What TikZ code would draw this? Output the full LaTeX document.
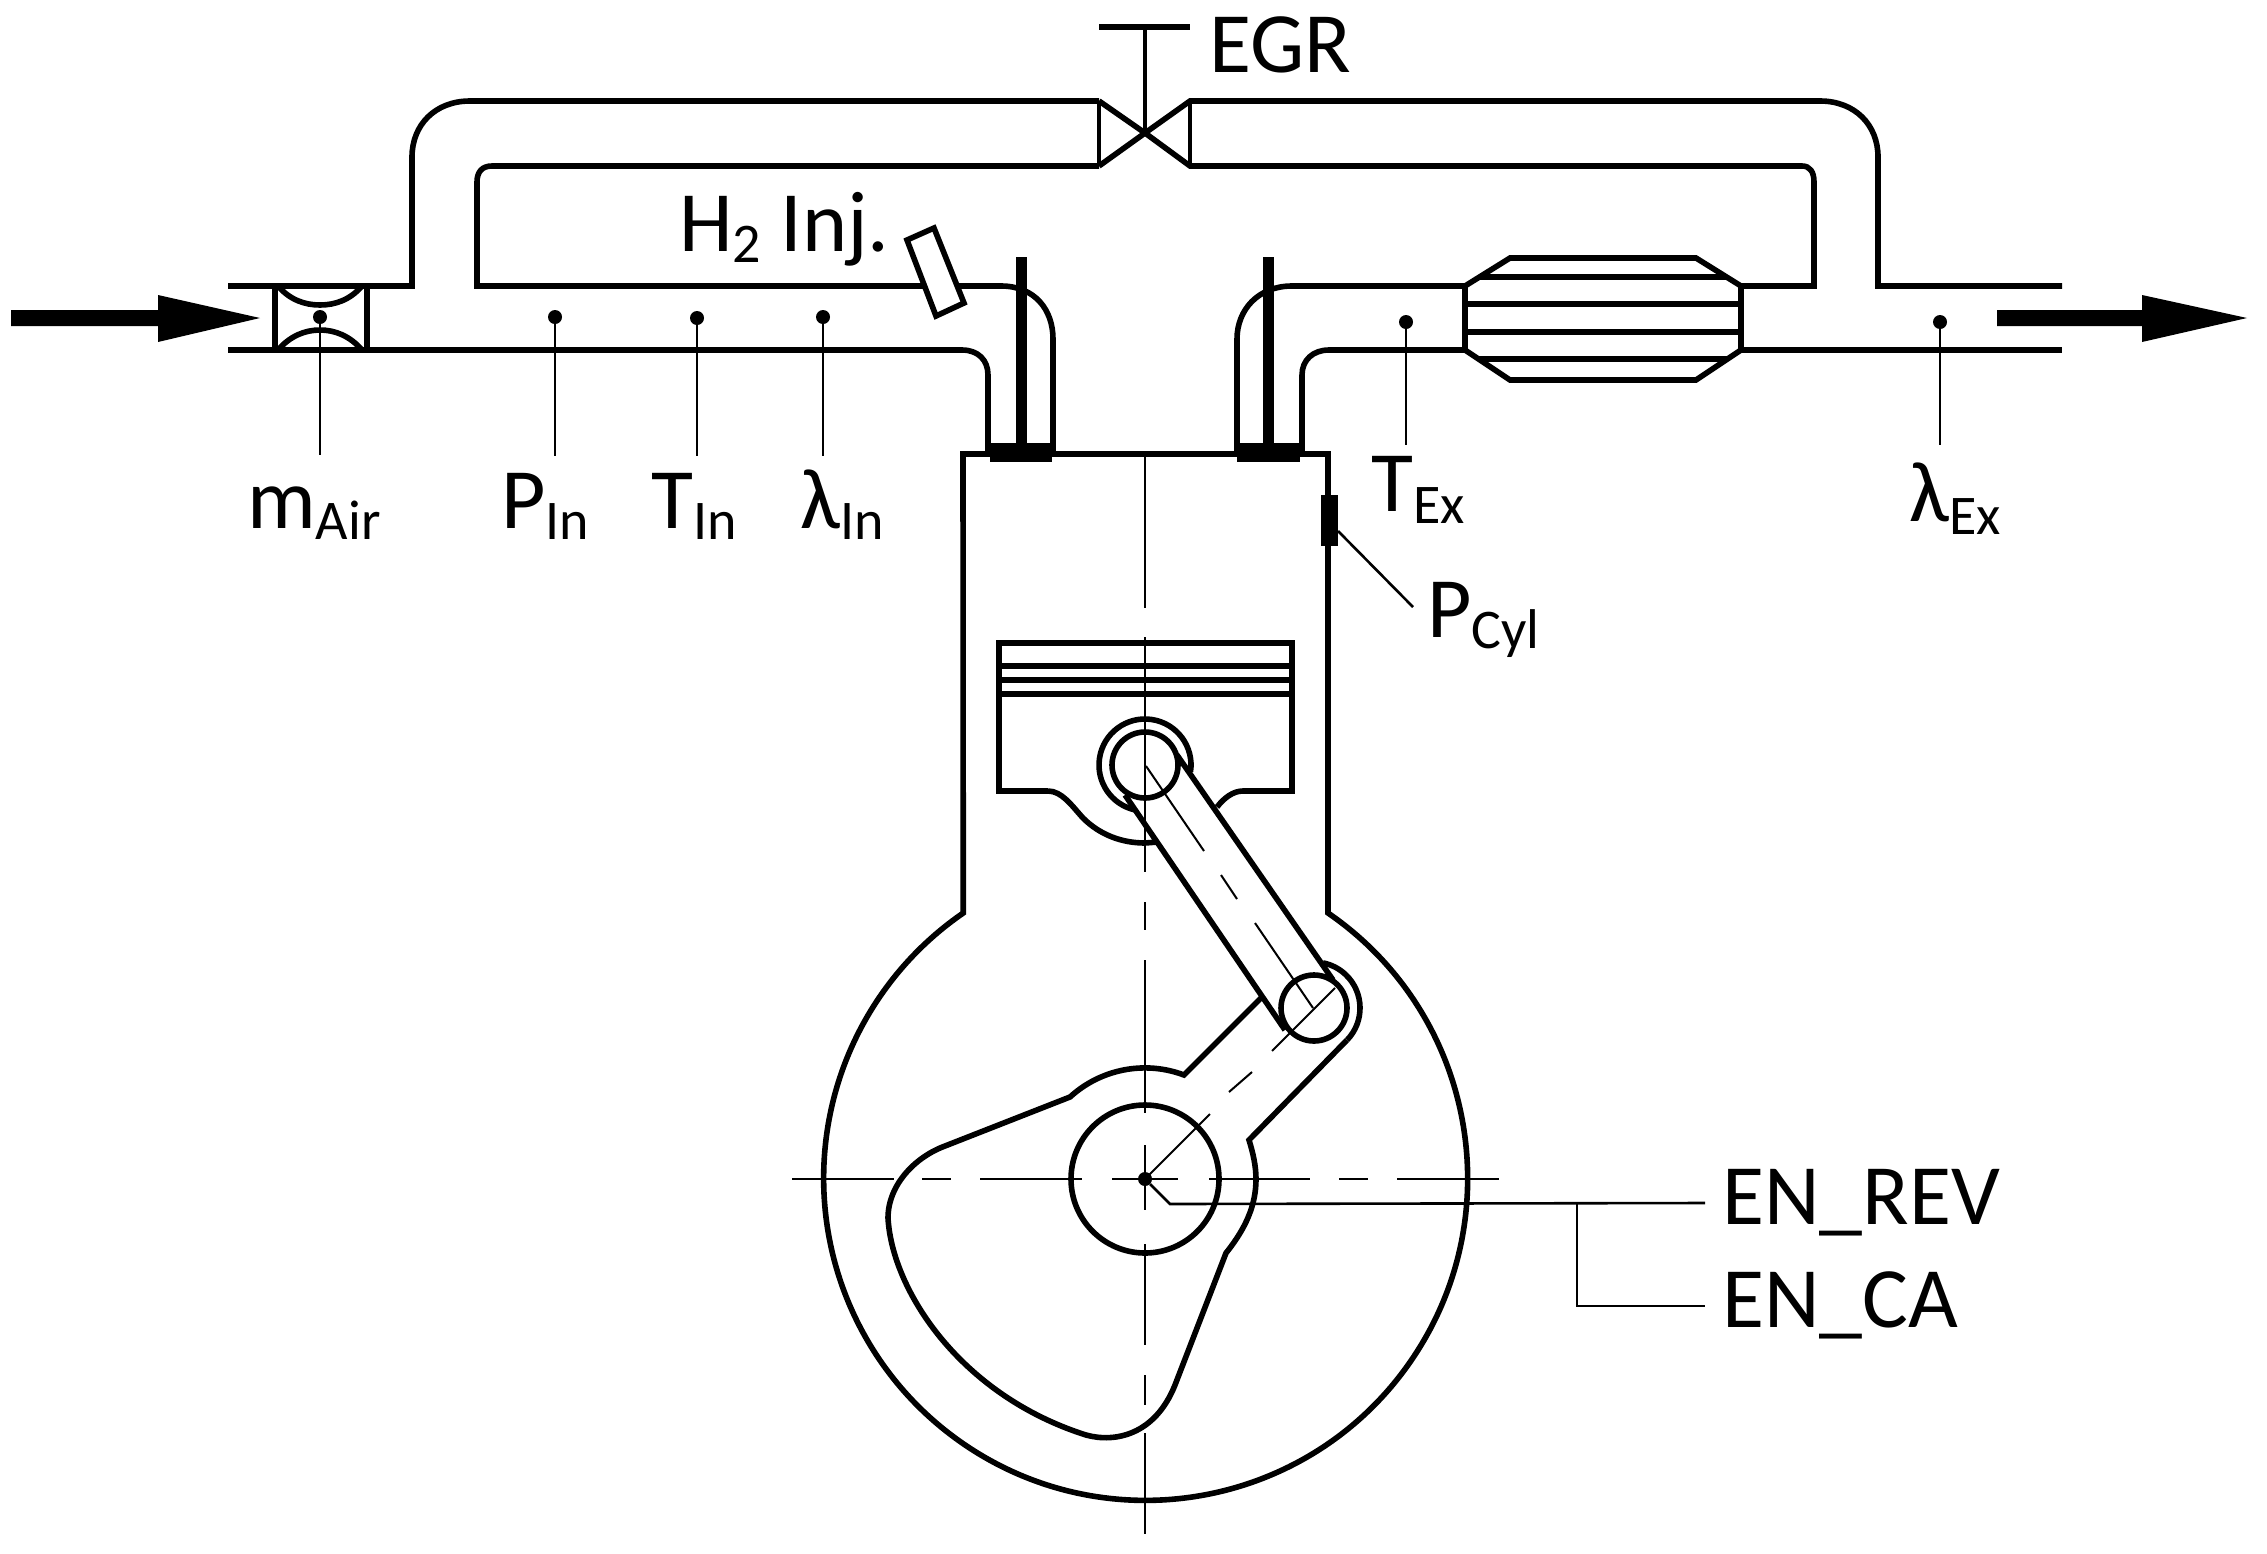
\documentclass[tikz,border=0pt]{standalone}
\usepackage{fontspec}
\setmainfont{Carlito}
\newcommand\labsub[2][-11pt]{\raisebox{#1}{\fontsize{56}{56}\selectfont #2}}
\tikzset{
  pipe/.style={line width=5.6pt,line cap=butt,line join=miter},
  thinpipe/.style={line width=3.6pt},
  leader/.style={line width=2.6pt},
  center line/.style={line width=2pt},
  probe/.style={circle,fill=black,inner sep=0pt,minimum size=14pt},
  lab/.style={inner sep=0pt,anchor=base west,font=\fontsize{86}{86}\selectfont},
}
\begin{document}
\begin{tikzpicture}[x=1pt,y=1pt,yscale=-1]
\useasboundingbox (0,0) rectangle (2267,1553);
% flow arrows
\fill (11,310) -- (158,310) -- (158,295) -- (260,318) -- (158,342) -- (158,326) -- (11,326) -- cycle;
\fill (1997,310) -- (2142,310) -- (2142,295) -- (2247,318) -- (2142,342) -- (2142,326) -- (1997,326) -- cycle;
% intake pipe
\draw[pipe] (228,286) -- (412,286) -- (412,157) .. controls (412,125) and (435,101) .. (470,101) -- (1099,101);
\draw[pipe] (1099,166) -- (492,166) .. controls (482,166) and (477,172) .. (477,182) -- (477,286) -- (1001,286) .. controls (1035,286) and (1053,310) .. (1053,339) -- (1053,453);
\draw[pipe] (228,350) -- (962,350) .. controls (978,350) and (988,360) .. (988,375) -- (988,453);
% flow meter
\draw[pipe] (275,286) -- (275,350);
\draw[pipe] (367,286) -- (367,350);
\draw[pipe] (278,286) .. controls (290,300) and (305,305) .. (320,305) .. controls (335,305) and (350,300) .. (362,286);
\draw[pipe] (278,350) .. controls (290,336) and (305,330) .. (320,330) .. controls (335,330) and (350,336) .. (362,350);
% EGR valve
\draw[pipe] (1099,101) -- (1145,133) ;
\draw[pipe] (1145,133) -- (1190,101) -- (1820,101) .. controls (1855,101) and (1878,125) .. (1878,157) -- (1878,286) -- (2062,286);
\draw[pipe] (1099,166) -- (1145,133) -- (1190,166) -- (1802,166) .. controls (1810,166) and (1814,172) .. (1814,182) -- (1814,286) -- (1741,286);
\draw[thinpipe] (1099,101) -- (1099,166);
\draw[thinpipe] (1190,101) -- (1190,166);
\draw[thinpipe] (1145,27) -- (1145,133);
\draw[pipe] (1099,27) -- (1190,27);
% exhaust pipe
\draw[pipe] (1465,286) -- (1292,286) .. controls (1258,286) and (1237,310) .. (1237,339) -- (1237,453);
\draw[pipe] (1465,350) -- (1329,350) .. controls (1313,350) and (1302,360) .. (1302,375) -- (1302,453);
\draw[pipe] (1741,350) -- (2062,350);
% catalyst
\draw[pipe] (1465,286) -- (1510,258) -- (1696,258) -- (1741,286) -- (1741,350) -- (1696,380) -- (1510,380) -- (1465,350) -- cycle;
\draw[pipe] (1479,277) -- (1726,277);
\draw[pipe] (1465,304) -- (1741,304);
\draw[pipe] (1465,332) -- (1741,332);
\draw[pipe] (1479,359) -- (1727,359);
% injector
\draw[pipe,fill=white] (907,240) -- (934,228) -- (964,303) -- (936,316) -- cycle;
% valves
\draw[line width=11pt] (1021.5,257) -- (1021.5,450);
\draw[line width=11pt] (1268,257) -- (1268,450);
\fill (990,443) rectangle (1052,462);
\fill (1237,443) rectangle (1300,462);
% cylinder and crankcase
\draw[pipe] (1328,454) -- (1328,913) arc[start angle=-55.5,end angle=235.5,radius=322] -- (963,454) -- cycle;
\fill (1321,495) rectangle (1338,546);
% piston
\draw[pipe] (1048,791) -- (999,791) -- (999,643) -- (1292,643) -- (1292,791) -- (1243,791) .. controls (1233,791) and (1224,798) .. (1217,807);
\draw[pipe] (999,666) -- (1292,666);
\draw[pipe] (999,680) -- (1292,680);
\draw[pipe] (999,694) -- (1292,694);
\draw[pipe] (1048,791) .. controls (1062,791) and (1072,806) .. (1083,818) .. controls (1100,835) and (1122,843) .. (1145,843) -- (1158,842);
% connecting rod
\draw[pipe] (1145,765) circle[radius=33];
\draw[pipe] (1314,1008) circle[radius=33];
\draw[pipe] (1145,765) ++(8.5:46) arc[start angle=8.5,end angle=-257.5,radius=46];
\draw[pipe] (1125,795) -- (1285,1030);
\draw[pipe] (1177,755) -- (1333,980);
% crank
\draw[pipe] (1145,1179) circle[radius=74];
\draw[pipe] (1263,996) -- (1184,1075) arc[start angle=-69.4,end angle=-132.4,radius=111] -- (945,1146)
  .. controls (915,1157) and (888,1185) .. (888,1218)
  .. controls (892,1290) and (960,1395) .. (1086,1435)
  .. controls (1115,1443) and (1155,1435) .. (1175,1385) -- (1226,1253)
  .. controls (1246,1228) and (1256,1205) .. (1256,1179) .. controls (1256,1166) and (1253,1153) .. (1249,1140) -- (1347,1040);
\draw[pipe] (1314,1008) ++(44:46) arc[start angle=44,end angle=-78.7,radius=46];
% centre lines
\foreach \a/\b in {454/608,637/872,902/930,960/1113,1145/1210,1244/1345,1375/1405,1433/1534}
  \draw[center line] (1145,\a) -- (1145,\b);
\foreach \a/\b in {792/894,922/951,980/1082,1112/1178,1209/1310,1339/1368,1397/1499}
  \draw[center line] (\a,1178.5) -- (\b,1178.5);
\draw[center line] (1146,766) -- (1204,851);
\draw[center line] (1221,875) -- (1237,899);
\draw[center line] (1255,923) -- (1313,1008);
\draw[center line] (1335,988) -- (1272,1051);
\draw[center line] (1252,1072) -- (1229,1092);
\draw[center line] (1210,1114) -- (1149,1175);
% probes and leaders
\node[probe] (mAir) at (320,317) {};
\node[probe] (pIn) at (555,317) {};
\node[probe] (tIn) at (697,318) {};
\node[probe] (lIn) at (823,317) {};
\node[probe] (tEx) at (1406,322) {};
\node[probe] (lEx) at (1940,322) {};
\node[probe] (crank) at (1145,1179) {};
\coordinate (mAirE) at (320,455);
\coordinate (pInE) at (555,456);
\coordinate (tInE) at (697,456);
\coordinate (lInE) at (823,456);
\coordinate (tExE) at (1406,445);
\coordinate (lExE) at (1940,445);
\coordinate (cylS) at (1338,531);
\coordinate (cylE) at (1413,607);
\coordinate (bend) at (1170,1204);
\coordinate (revE) at (1705,1203);
\coordinate (split) at (1577,1203);
\coordinate (caC) at (1577,1306);
\coordinate (caE) at (1705,1306);
\draw[leader] (mAir) -- (mAirE);
\draw[leader] (pIn) -- (pInE);
\draw[leader] (tIn) -- (tInE);
\draw[leader] (lIn) -- (lInE);
\draw[leader] (tEx) -- (tExE);
\draw[leader] (lEx) -- (lExE);
\draw[leader] (cylS) -- (cylE);
\draw[leader] (crank) -- (bend) -- (revE);
\draw[leader] (split) -- (caC) -- (caE);
% labels
\node[lab] (tEGR) at (1209,72) {EGR};
\node[lab] (tH) at (679,251) {H\labsub{2} Inj.};
\node[lab] (tm) at (247,528) {m\labsub{Air}};
\node[lab] (tP) at (501,528) {P\labsub{In}};
\node[lab] (tT) at (651,528) {T\labsub{In}};
\node[lab] (tL) at (800,528) {λ\labsub{In}};
\node[lab] (tTE) at (1371,511) {T\labsub[-12pt]{Ex}};
\node[lab] (tLE) at (1909,521) {λ\labsub[-13pt]{Ex}};
\node[lab] (tPC) at (1427,637) {P\labsub{Cyl}};
\node[lab] (tRev) at (1722,1224) {EN\_REV};
\node[lab] (tCa) at (1722,1327) {EN\_CA};
\end{tikzpicture}
\end{document}
